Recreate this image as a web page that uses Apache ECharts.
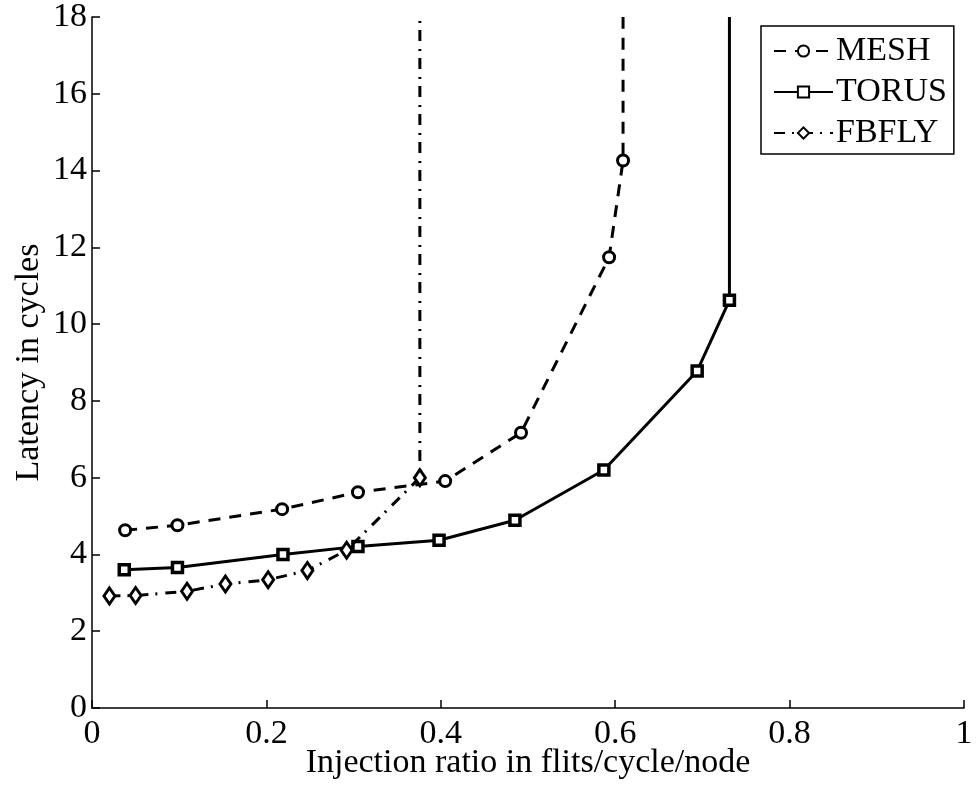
<!DOCTYPE html>
<html>
<head>
<meta charset="utf-8">
<script src="https://cdn.jsdelivr.net/npm/echarts@6/dist/echarts.min.js"></script>
<style>
html,body{margin:0;padding:0;background:#fff;}
#chart{width:976px;height:787px;}
</style>
</head>
<body>
<div id="chart"></div>
<script>
// Data
const meshX  = [0.038, 0.098, 0.218, 0.305, 0.405, 0.492, 0.593, 0.609, 0.609];
const meshY  = [4.63, 4.76, 5.18, 5.62, 5.91, 7.17, 11.74, 14.26, 18];
const torusX = [0.037, 0.098, 0.219, 0.305, 0.398, 0.485, 0.587, 0.694, 0.731, 0.731];
const torusY = [3.60, 3.66, 4.00, 4.21, 4.37, 4.89, 6.20, 8.78, 10.62, 18];
const fbflyX = [0.020, 0.050, 0.109, 0.153, 0.202, 0.247, 0.292, 0.376, 0.376];
const fbflyY = [2.92, 2.93, 3.04, 3.23, 3.34, 3.58, 4.11, 6.00, 18];
const seriesNames = ['MESH', 'TORUS', 'FBFLY'];
const xTicks = [0, 0.2, 0.4, 0.6, 0.8, 1];
const yTicks = [0, 2, 4, 6, 8, 10, 12, 14, 16, 18];
const xTitle = 'Injection ratio in flits/cycle/node';
const yTitle = 'Latency in cycles';

const FONT = 'Liberation Serif';
const FS = 34;

function build(xs, ys) {
  // last point continues to top of the axis (saturation), drawn without a marker
  return xs.map((x, i) => {
    if (i === xs.length - 1) return { value: [x, ys[i]], symbol: 'none' };
    return [x, ys[i]];
  });
}

const chart = echarts.init(document.getElementById('chart'), null, { renderer: 'canvas' });
chart.setOption({
  animation: false,
  backgroundColor: '#fff',
  grid: { left: 92, right: 12, top: 17, bottom: 79, containLabel: false, outerBoundsMode: 'none' },
  legend: {
    data: seriesNames,
    orient: 'vertical',
    left: 761,
    top: 26,
    padding: [8, 7, 4, 12],
    itemGap: 7,
    itemWidth: 59,
    itemHeight: 14,
    backgroundColor: '#fff',
    borderColor: '#000',
    borderWidth: 1.5,
    borderRadius: 0,
    textStyle: { fontFamily: FONT, fontSize: FS, color: '#000', padding: [0, 0, 0, -2] }
  },
  xAxis: {
    type: 'value',
    min: 0, max: 1, interval: 0.2,
    name: xTitle,
    nameLocation: 'middle',
    nameGap: 38,
    nameMoveOverlap: false,
    nameTextStyle: { fontFamily: FONT, fontSize: FS, color: '#000' },
    axisLine: { show: true, onZero: false, lineStyle: { color: '#000', width: 1.5 } },
    axisTick: { show: true, inside: true, length: 8, lineStyle: { color: '#000', width: 1.5 } },
    axisLabel: {
      fontFamily: FONT, fontSize: FS, color: '#000', margin: 9,
      formatter: v => xTicks.indexOf(Math.round(v * 10) / 10) >= 0 ? String(Math.round(v * 10) / 10) : ''
    },
    splitLine: { show: false }
  },
  yAxis: {
    type: 'value',
    min: 0, max: 18, interval: 2,
    name: yTitle,
    nameLocation: 'middle',
    nameGap: 46,
    nameMoveOverlap: false,
    nameTextStyle: { fontFamily: FONT, fontSize: FS, color: '#000' },
    axisLine: { show: true, onZero: false, lineStyle: { color: '#000', width: 1.5 } },
    axisTick: { show: true, inside: true, length: 8, lineStyle: { color: '#000', width: 1.5 } },
    axisLabel: {
      fontFamily: FONT, fontSize: FS, color: '#000', margin: 5,
      formatter: v => yTicks.indexOf(v) >= 0 ? String(v) : ''
    },
    splitLine: { show: false }
  },
  series: [
    {
      name: seriesNames[0], type: 'line', clip: true,
      data: build(meshX, meshY),
      symbol: 'circle', symbolSize: 11,
      itemStyle: { color: '#fff', borderColor: '#000', borderWidth: 3 },
      lineStyle: { color: '#000', width: 3, type: [12, 9] },
      z: 3
    },
    {
      name: seriesNames[1], type: 'line', clip: true,
      data: build(torusX, torusY),
      symbol: 'rect', symbolSize: 10,
      itemStyle: { color: '#fff', borderColor: '#000', borderWidth: 3.5 },
      lineStyle: { color: '#000', width: 3, type: 'solid' },
      z: 2
    },
    {
      name: seriesNames[2], type: 'line', clip: true,
      data: build(fbflyX, fbflyY),
      symbol: 'diamond', symbolSize: [11, 16],
      itemStyle: { color: '#fff', borderColor: '#000', borderWidth: 3 },
      lineStyle: { color: '#000', width: 3, type: [11, 7, 2, 8] },
      z: 4
    }
  ]
});
</script>
</body>
</html>
